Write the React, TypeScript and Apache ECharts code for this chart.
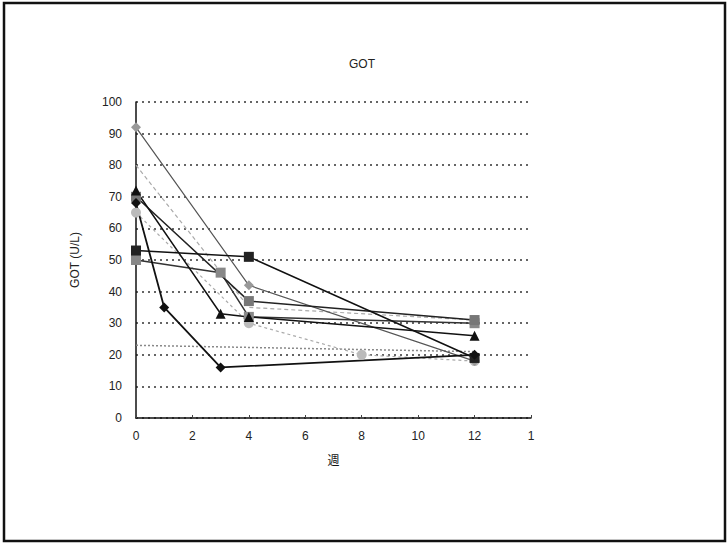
import React, { useEffect, useRef } from "react";
import * as echarts from "echarts";

const xTicks = [0, 2, 4, 6, 8, 10, 12, 14];
const xTickLabels = ["0", "2", "4", "6", "8", "10", "12", "1"];

const s1Diamond = [[0, 68], [1, 35], [3, 16], [12, 20]];
const s2Triangle = [[0, 72], [3, 33], [4, 32], [12, 26]];
const s3Square = [[0, 53], [4, 51], [12, 19]];
const s4GreySquare = [[0, 70], [4, 37], [12, 31]];
const s5GreySquare = [[0, 50], [3, 46], [4, 32], [12, 30]];
const s6GreyDiamond = [[0, 92], [4, 42], [12, 18]];
const s7GreyCircle = [[0, 65], [4, 30], [8, 20], [12, 18]];
const s8Dashed = [[0, 80], [4, 35], [12, 31]];
const s9Flat = [[0, 23], [12, 21]];

export default function App() {
  const ref = useRef<HTMLDivElement>(null);
  useEffect(() => {
    const chart = echarts.init(ref.current!, null, { renderer: "svg" });
    const font = "'Liberation Sans', Arial, sans-serif";
    const mk = (data: number[][], symbol: string, color: string, lineColor: string, type: any, width = 1.5, size = 10) => ({
      type: "line",
      data,
      symbol,
      symbolSize: size,
      itemStyle: { color },
      lineStyle: { color: lineColor, width, type },
      z: 3,
    });
    chart.setOption({
      animation: false,
      backgroundColor: "#fff",
      title: {
        text: "GOT",
        left: 357,
        top: 53,
        textAlign: "center",
        textStyle: { fontFamily: font, fontSize: 12, fontWeight: "normal", color: "#222" },
      },
      grid: { left: 136, right: 196, top: 102, bottom: 126 },
      xAxis: {
        type: "value",
        min: 0,
        max: 14,
        interval: 2,
        name: "週",
        nameLocation: "middle",
        nameGap: 35,
        nameTextStyle: { fontFamily: "'Noto Sans CJK JP'", fontSize: 12, color: "#111" },
        axisLine: { show: true, lineStyle: { color: "#111", width: 1.5 } },
        axisTick: { show: true, inside: true, length: 3, lineStyle: { color: "#444" } },
        axisLabel: {
          fontFamily: font,
          fontSize: 12,
          color: "#222",
          margin: 12,
          formatter: (v: number) => xTickLabels[xTicks.indexOf(v)] ?? String(v),
        },
        splitLine: { show: false },
      },
      yAxis: {
        type: "value",
        min: 0,
        max: 100,
        interval: 10,
        name: "GOT (U/L)",
        nameLocation: "middle",
        nameGap: 55,
        nameTextStyle: { fontFamily: font, fontSize: 12, color: "#222" },
        axisLine: { show: true, lineStyle: { color: "#111", width: 1.5 } },
        axisTick: { show: false },
        axisLabel: { fontFamily: font, fontSize: 12, color: "#222", margin: 14 },
        splitLine: { show: true, lineStyle: { color: "#333", type: [2, 4], width: 1.5 } },
      },
      series: [
        mk(s9Flat, "none", "#999", "#888", [2, 2], 1.5),
        mk(s8Dashed, "none", "#aaa", "#aaa", [4, 3], 1.2),
        mk(s7GreyCircle, "circle", "#bbb", "#aaa", [3, 3], 1.2),
        mk(s6GreyDiamond, "diamond", "#999", "#555", "solid", 1.2),
        mk(s5GreySquare, "rect", "#888", "#333", "solid", 1.5),
        mk(s4GreySquare, "rect", "#777", "#222", "solid", 1.5),
        mk(s3Square, "rect", "#222", "#111", "solid", 1.5),
        mk(s2Triangle, "triangle", "#111", "#111", "solid", 1.5),
        mk(s1Diamond, "diamond", "#111", "#111", "solid", 1.8),
      ],
      graphic: [
        {
          type: "rect",
          shape: { x: 4, y: 3, width: 721, height: 538 },
          style: { fill: "none", stroke: "#111", lineWidth: 2.5 },
          silent: true,
        },
      ],
    });
    return () => chart.dispose();
  }, []);
  return <div ref={ref} style={{ position: "fixed", left: 0, top: 0, width: 727, height: 544 }} />;
}
